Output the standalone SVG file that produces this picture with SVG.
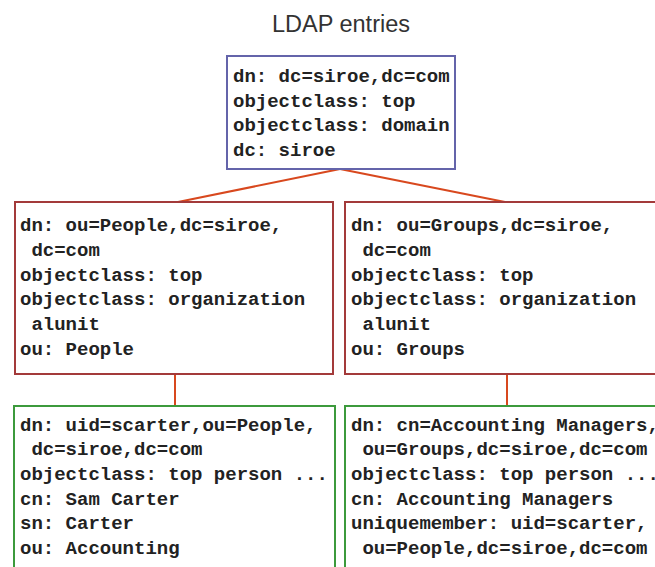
<svg xmlns="http://www.w3.org/2000/svg" width="655" height="567" viewBox="0 0 655 567">
<style>
.t{font-family:"Liberation Mono","Courier New",monospace;font-size:19px;font-weight:bold;fill:#222;white-space:pre}
.title{font-family:"Liberation Sans",Arial,sans-serif;font-size:23.5px;fill:#333}
.b{fill:#fff;stroke-width:2}
.blue{stroke:#6464aa}
.red{stroke:#a33a3a}
.green{stroke:#3c9a3c}
.c{stroke:#d8481e;stroke-width:2;fill:none}
</style>
<rect width="655" height="567" fill="#fff"/>
<text class="title" x="341" y="32" text-anchor="middle">LDAP entries</text>
<g id="connectors">
<line class="c" x1="340" y1="169" x2="178" y2="202"/>
<line class="c" x1="340" y1="169" x2="505" y2="202"/>
<line class="c" x1="175" y1="374" x2="175" y2="406"/>
<line class="c" x1="507" y1="374" x2="507" y2="406"/>
</g>
<g id="root">
<rect class="b blue" x="227" y="56" width="228" height="113"/>
<text class="t" x="233" y="82">dn: dc=siroe,dc=com</text>
<text class="t" x="233" y="107">objectclass: top</text>
<text class="t" x="233" y="131">objectclass: domain</text>
<text class="t" x="233" y="156">dc: siroe</text>
</g>
<g id="people">
<rect class="b red" x="15" y="202" width="318" height="172"/>
<text class="t" x="20" y="231">dn: ou=People,dc=siroe,</text>
<text class="t" x="20" y="256"> dc=com</text>
<text class="t" x="20" y="281">objectclass: top</text>
<text class="t" x="20" y="305">objectclass: organization</text>
<text class="t" x="20" y="330"> alunit</text>
<text class="t" x="20" y="355">ou: People</text>
</g>
<g id="groups">
<rect class="b red" x="345" y="202" width="320" height="172"/>
<text class="t" x="351" y="231">dn: ou=Groups,dc=siroe,</text>
<text class="t" x="351" y="256"> dc=com</text>
<text class="t" x="351" y="281">objectclass: top</text>
<text class="t" x="351" y="305">objectclass: organization</text>
<text class="t" x="351" y="330"> alunit</text>
<text class="t" x="351" y="355">ou: Groups</text>
</g>
<g id="scarter">
<rect class="b green" x="14" y="406" width="321" height="180"/>
<text class="t" x="20" y="431">dn: uid=scarter,ou=People,</text>
<text class="t" x="20" y="455"> dc=siroe,dc=com</text>
<text class="t" x="20" y="480">objectclass: top person ...</text>
<text class="t" x="20" y="505">cn: Sam Carter</text>
<text class="t" x="20" y="529">sn: Carter</text>
<text class="t" x="20" y="554">ou: Accounting</text>
</g>
<g id="managers">
<rect class="b green" x="345" y="406" width="320" height="180"/>
<text class="t" x="351" y="431">dn: cn=Accounting Managers,</text>
<text class="t" x="351" y="455"> ou=Groups,dc=siroe,dc=com</text>
<text class="t" x="351" y="480">objectclass: top person ...</text>
<text class="t" x="351" y="505">cn: Accounting Managers</text>
<text class="t" x="351" y="529">uniquemember: uid=scarter,</text>
<text class="t" x="351" y="554"> ou=People,dc=siroe,dc=com</text>
</g>
</svg>
